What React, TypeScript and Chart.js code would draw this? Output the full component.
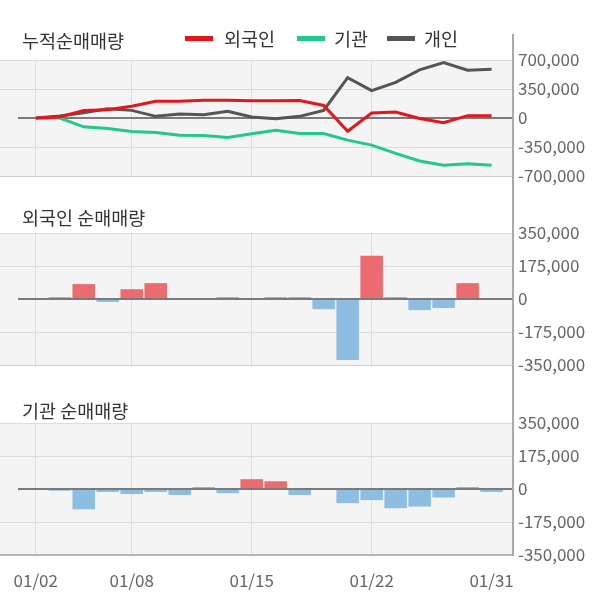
import React, { useEffect, useRef } from "react";
import { Chart, registerables } from "chart.js";

Chart.register(...registerables);

// ---------------- data ----------------
const dates = ["01/02", "01/03", "01/06", "01/07", "01/08", "01/09", "01/10", "01/13", "01/14", "01/15",
  "01/16", "01/17", "01/20", "01/21", "01/22", "01/23", "01/28", "01/29", "01/30", "01/31"];
const tickDates = ["01/02", "01/08", "01/15", "01/22", "01/31"];
const gridlessDates = ["01/31"];

const seriesNames = ["외국인", "기관", "개인"];
const foreignCum = [0, 12000, 92000, 100000, 143000, 203000, 203000, 215000, 215000, 207000,
  207000, 211000, 151000, -159000, 60000, 72000, -5000, -56000, 28000, 28000];
const instCum = [0, 0, -107000, -127000, -163000, -175000, -207000, -211000, -235000, -191000,
  -147000, -187000, -187000, -267000, -327000, -426000, -518000, -569000, -553000, -569000];
const indivCum = [0, 24000, 64000, 111000, 92000, 20000, 48000, 40000, 80000, 12000,
  -8000, 20000, 92000, 486000, 330000, 430000, 581000, 669000, 577000, 589000];

const foreignDaily = [0, 9000, 79000, -16000, 52000, 84000, 0, 0, 9000, 0,
  9000, 9000, -54000, -323000, 230000, 9000, -59000, -48000, 84000, 0];
const instDaily = [0, -9000, -108000, -16000, -27000, -16000, -32000, 9000, -22000, 52000,
  41000, -32000, 0, -75000, -59000, -102000, -93000, -45000, 9000, -16000];

const cumTicks = [700000, 350000, 0, -350000, -700000];
const dailyTicks = [350000, 175000, 0, -175000, -350000];

const titles = ["누적순매매량", "외국인 순매매량", "기관 순매매량"];

// ---------------- styles ----------------
const FONT = '"Noto Sans CJK KR", "Noto Sans", sans-serif';
const lineColors = ["#e8141c", "#22c98a", "#555555"];
const posBar = "#eb6b70";
const negBar = "#8ebde2";
const X_MIN = -1.49;
const X_MAX = 19.85;
const AXIS_W = 88;
const TICK_SIZE = 17;

const toXY = (arr: number[]) => arr.map((v, i) => ({ x: i, y: v }));

const decoPlugin = {
  id: "panelDeco",
  beforeDraw(chart: any) {
    const { ctx, chartArea: a } = chart;
    ctx.save();
    ctx.fillStyle = "#f4f4f4";
    ctx.fillRect(a.left, a.top, a.right - a.left, a.bottom - a.top);
    ctx.restore();
  },
  beforeDatasetsDraw(chart: any, _a: any, opts: any) {
    if (!opts.zeroOnTop) drawZero(chart);
  },
  afterDatasetsDraw(chart: any, _a: any, opts: any) {
    if (opts.zeroOnTop) drawZero(chart);
  },
  afterDraw(chart: any, _a: any, opts: any) {
    const { ctx, chartArea: a } = chart;
    ctx.save();
    ctx.strokeStyle = "#a9a9a9";
    ctx.lineWidth = 2;
    ctx.beginPath();
    const x = a.right + 1;
    ctx.moveTo(x, opts.axisTop || 0);
    ctx.lineTo(x, opts.axisToChartBottom ? a.bottom + 1 : chart.height);
    ctx.stroke();
    ctx.restore();
  },
};

function drawZero(chart: any) {
  const { ctx, chartArea: a, scales } = chart;
  const y = scales.y.getPixelForValue(0);
  ctx.save();
  ctx.strokeStyle = "#7a7a7a";
  ctx.lineWidth = 2;
  ctx.beginPath();
  ctx.moveTo(a.left + 18, y);
  ctx.lineTo(a.right, y);
  ctx.stroke();
  ctx.restore();
}

function xScale(showLabels: boolean, axisHeight: number) {
  const idx = tickDates.map((d) => dates.indexOf(d));
  return {
    type: "linear",
    min: X_MIN,
    max: X_MAX,
    offset: false,
    afterBuildTicks: (s: any) => {
      s.ticks = idx.map((v) => ({ value: v }));
    },
    afterFit: (s: any) => {
      s.height = axisHeight;
      s.paddingLeft = 0;
      s.paddingRight = 0;
    },
    ticks: {
      display: showLabels,
      autoSkip: false,
      maxRotation: 0,
      padding: 15,
      color: "#666",
      font: { family: FONT, size: TICK_SIZE },
      callback: (v: any) => dates[v],
    },
    grid: {
      offset: false,
      drawTicks: false,
      color: (c: any) =>
        c.tick && gridlessDates.includes(dates[c.tick.value]) ? "rgba(0,0,0,0)" : "#dcdcdc",
    },
    border: { display: false },
  };
}

function yScale(ticks: number[], bottomColor: string, bottomWidth: number) {
  const mn = Math.min(...ticks);
  const mx = Math.max(...ticks);
  return {
    position: "right",
    min: mn,
    max: mx,
    beginAtZero: false,
    afterBuildTicks: (s: any) => {
      s.ticks = ticks.map((v) => ({ value: v }));
    },
    afterFit: (s: any) => {
      s.width = AXIS_W;
    },
    ticks: {
      padding: 6,
      color: "#666",
      font: { family: FONT, size: TICK_SIZE },
      callback: (v: any) => Number(v).toLocaleString("en-US"),
    },
    grid: {
      drawTicks: false,
      color: (c: any) => {
        if (!c.tick) return "#dcdcdc";
        if (c.tick.value === 0) return "rgba(0,0,0,0)";
        if (c.tick.value === mn) return bottomColor;
        return "#dcdcdc";
      },
      lineWidth: (c: any) => (c.tick && c.tick.value === mn ? bottomWidth : 1),
    },
    border: { display: false },
  };
}

function lineConfig(): any {
  const all = [foreignCum, instCum, indivCum];
  return {
    type: "line",
    data: {
      datasets: all.map((arr, i) => ({
        label: seriesNames[i],
        data: toXY(arr),
        borderColor: lineColors[i],
        backgroundColor: lineColors[i],
        borderWidth: 3,
        pointRadius: 0,
        tension: 0,
        fill: false,
      })),
    },
    options: {
      responsive: false,
      animation: false,
      events: [],
      layout: { padding: { top: 60, bottom: 24, left: 0, right: 0 } },
      plugins: {
        legend: { display: false },
        tooltip: { enabled: false },
        panelDeco: { axisTop: 34, zeroOnTop: false },
      },
      scales: { x: xScale(false, 0), y: yScale(cumTicks, "#cfcfcf", 1) },
    },
    plugins: [decoPlugin],
  };
}

function barConfig(arr: number[], label: string, showX: boolean, isLast: boolean): any {
  return {
    type: "bar",
    data: {
      datasets: [
        {
          label,
          data: toXY(arr),
          backgroundColor: (c: any) => (c.raw && c.raw.y < 0 ? negBar : posBar),
          borderWidth: 0,
          barPercentage: 0.94,
          categoryPercentage: 1,
        },
      ],
    },
    options: {
      responsive: false,
      animation: false,
      events: [],
      layout: { padding: { top: 33, bottom: isLast ? 0 : 25, left: 0, right: 0 } },
      plugins: {
        legend: { display: false },
        tooltip: { enabled: false },
        panelDeco: { axisTop: 0, zeroOnTop: true, axisToChartBottom: isLast },
      },
      scales: {
        x: xScale(showX, showX ? 49 : 0),
        y: isLast ? yScale(dailyTicks, "#b5b5b5", 2) : yScale(dailyTicks, "#cfcfcf", 1),
      },
    },
    plugins: [decoPlugin],
  };
}

const titleStyle = (top: number): React.CSSProperties => ({
  position: "absolute",
  left: 22,
  top,
  height: 22,
  lineHeight: "22px",
  fontFamily: FONT,
  fontSize: 18.5,
  color: "#333",
  whiteSpace: "nowrap",
});

const legendPos = [
  { sw: 185, tx: 224 },
  { sw: 297, tx: 334 },
  { sw: 387, tx: 424 },
];

export default function App() {
  const r1 = useRef<HTMLCanvasElement>(null);
  const r2 = useRef<HTMLCanvasElement>(null);
  const r3 = useRef<HTMLCanvasElement>(null);

  useEffect(() => {
    const c1 = new Chart(r1.current as any, lineConfig());
    const c2 = new Chart(r2.current as any, barConfig(foreignDaily, seriesNames[0], false, false));
    const c3 = new Chart(r3.current as any, barConfig(instDaily, seriesNames[1], true, true));
    return () => {
      c1.destroy();
      c2.destroy();
      c3.destroy();
    };
  }, []);

  return (
    <div style={{ position: "absolute", left: 0, top: 0, width: 600, height: 604, background: "#fff", overflow: "hidden" }}>
      <canvas ref={r1} width={600} height={200} style={{ position: "absolute", left: 0, top: 0 }} />
      <canvas ref={r2} width={600} height={190} style={{ position: "absolute", left: 0, top: 200 }} />
      <canvas ref={r3} width={600} height={214} style={{ position: "absolute", left: 0, top: 390 }} />
      <div style={titleStyle(29)}>{titles[0]}</div>
      <div style={titleStyle(206)}>{titles[1]}</div>
      <div style={titleStyle(399)}>{titles[2]}</div>
      {seriesNames.map((n, i) => (
        <React.Fragment key={n}>
          <div style={{ position: "absolute", left: legendPos[i].sw, top: 36, width: 28, height: 5, background: lineColors[i] }} />
          <div style={{ ...titleStyle(27), left: legendPos[i].tx }}>{n}</div>
        </React.Fragment>
      ))}
    </div>
  );
}
